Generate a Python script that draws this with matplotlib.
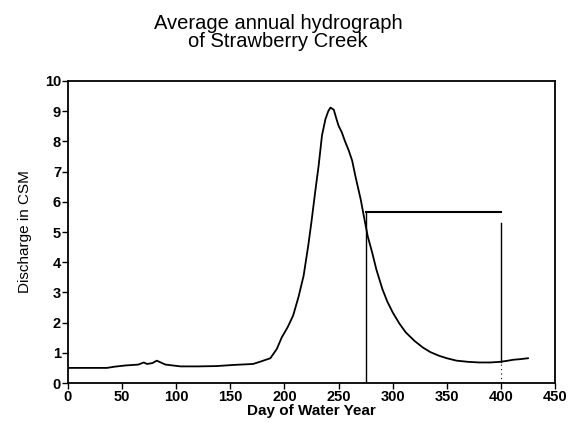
import matplotlib
matplotlib.use("Agg")
import matplotlib.pyplot as plt

# Data
days = [0, 15, 36, 43, 53, 65, 70, 73, 78, 82, 90, 104, 120, 137, 154, 171, 178, 187, 193,
        197.5, 203, 208, 213, 217.7, 222, 225, 228.5, 231.6, 234.7, 237.9, 240.5, 242.5,
        245.6, 248, 250, 253, 256, 259.5, 262.6, 265.8, 270.4, 273.5, 277, 281, 285, 290.5,
        295, 300, 306, 312, 320, 327.7, 335, 343, 350, 359, 370, 380,
        390, 399, 405, 411.5, 418, 425]
discharge = [0.50, 0.50, 0.50, 0.54, 0.58, 0.61, 0.68, 0.63, 0.66, 0.74, 0.61, 0.55, 0.55,
             0.56, 0.60, 0.63, 0.71, 0.82, 1.13,
             1.51, 1.85, 2.23, 2.85, 3.55, 4.55, 5.35, 6.35, 7.20, 8.20, 8.74, 9.00, 9.12,
             9.05, 8.75, 8.52, 8.30, 8.00, 7.69, 7.36, 6.81, 6.09, 5.50, 4.85, 4.33, 3.75, 3.11,
             2.70, 2.34, 1.98, 1.68, 1.40, 1.18, 1.02, 0.90, 0.82, 0.74, 0.70, 0.68,
             0.68, 0.70, 0.73, 0.77, 0.79, 0.82]

box_start = 275
box_end = 400
box_level = 5.67
box_right_top = 5.3

xticks = [0, 50, 100, 150, 200, 250, 300, 350, 400, 450]
yticks = [0, 1, 2, 3, 4, 5, 6, 7, 8, 9, 10]

plt.rcParams['font.family'] = ['Liberation Sans', 'DejaVu Sans']

fig = plt.figure(figsize=(5.72, 4.23), dpi=100)
ax = fig.add_axes([68/572, 1-383/423, (555-68)/572, (383-81)/423])

ax.plot(days, discharge, color='black', lw=1.3)
ax.plot([box_start, box_start], [0, box_level], color='black', lw=1.0)
ax.plot([box_start, box_end], [box_level, box_level], color='black', lw=1.5)
ax.plot([box_end, box_end], [0.7, box_right_top], color='black', lw=1.0)
ax.plot([box_end, box_end], [0, 0.7], color='black', lw=0.8, ls=(0, (1, 3)))

ax.set_xlim(0, 450)
ax.set_ylim(0, 10)
ax.set_xticks(xticks)
ax.set_yticks(yticks)
ax.tick_params(direction='out', length=4, width=1, labelsize=10.5, pad=1)
for lab in ax.get_xticklabels() + ax.get_yticklabels():
    lab.set_fontweight('bold')
for s in ax.spines.values():
    s.set_linewidth(1.3)

ax.set_xlabel('Day of Water Year', fontsize=11, fontweight='bold', labelpad=0)
ax.set_ylabel('Discharge in CSM', fontsize=11, labelpad=9,
              family=['Liberation Sans Narrow', 'Liberation Sans', 'DejaVu Sans'])

fig.text(0.486, 0.968, 'Average annual hydrograph\nof Strawberry Creek', ha='center', va='top',
         fontsize=14.5, linespacing=0.95)

fig.savefig('out.png', dpi=100)
